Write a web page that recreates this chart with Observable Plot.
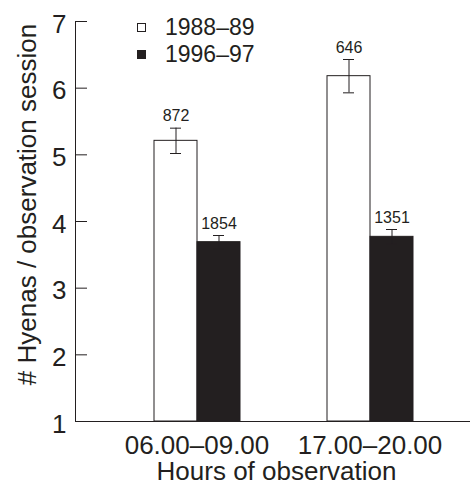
<!DOCTYPE html>
<html>
<head>
<meta charset="utf-8">
<script src="https://cdn.jsdelivr.net/npm/d3@7"></script>
<script src="https://cdn.jsdelivr.net/npm/@observablehq/plot@0.6"></script>
<style>
  html, body { margin: 0; padding: 0; background: #fff; }
  #wrap { position: relative; width: 470px; height: 490px; font-family: "Liberation Sans", Arial, Helvetica, sans-serif; color: #231f20; }
  #legend { position: absolute; left: 137px; top: 14px; font-size: 23px; line-height: 27px; }
  #legend .row { display: flex; align-items: center; }
  #legend .sw { width: 7px; height: 7px; border: 1px solid #231f20; margin-right: 19px; }
</style>
</head>
<body>
<div id="wrap"><div id="legend"></div></div>
<script>
// ---- data ----
const groups = ["06.00–09.00", "17.00–20.00"];
const series = ["1988–89", "1996–97"];
const seriesFill = ["#ffffff", "#231f20"];
// mean hyenas per session, by group, for each series
const means1988 = [5.21, 6.18];
const means1996 = [3.69, 3.77];
// error bar half-widths
const err1988 = [0.19, 0.25];
const err1996 = [0.10, 0.11];
// sample sizes shown above bars
const n1988 = [872, 646];
const n1996 = [1854, 1351];
const yDomain = [1, 7];
const yTicks = [1, 2, 3, 4, 5, 6, 7];
const yLabel = "# Hyenas / observation session";
const xLabel = "Hours of observation";

const rows = [];
groups.forEach((g, i) => {
  rows.push({group: g, series: series[0], value: means1988[i], err: err1988[i], n: n1988[i]});
  rows.push({group: g, series: series[1], value: means1996[i], err: err1996[i], n: n1996[i]});
});

const ink = "#231f20";
const font = "'Liberation Sans', Arial, Helvetica, sans-serif";
const firstGroup = () => groups[0];

const chart = Plot.plot({
  width: 470,
  height: 490,
  marginLeft: 75,
  marginRight: 0,
  marginTop: 21,
  marginBottom: 69,
  style: {fontFamily: font, color: ink, background: "#fff", overflow: "visible"},
  fx: {domain: groups, padding: 0, paddingOuter: 0.1416, align: 0},
  x: {domain: series, padding: 0, paddingOuter: 0.989, align: 0.913, axis: null},
  y: {domain: yDomain},
  color: {domain: series, range: seriesFill},
  marks: [
    Plot.barY(rows, {fx: "group", x: "series", y1: yDomain[0], y2: "value", fill: "series", stroke: ink, strokeWidth: 1}),
    Plot.ruleX(rows, {fx: "group", x: "series", y1: d => d.value - d.err, y2: d => d.value + d.err, stroke: ink, strokeWidth: 1}),
    Plot.tickY(rows, {fx: "group", x: "series", y: d => d.value + d.err, stroke: ink, strokeWidth: 1, insetLeft: 16, insetRight: 16}),
    Plot.tickY(rows, {fx: "group", x: "series", y: d => d.value - d.err, stroke: ink, strokeWidth: 1, insetLeft: 16, insetRight: 16}),
    Plot.text(rows, {fx: "group", x: "series", y: d => d.value + d.err, text: d => String(d.n), dy: -7, lineAnchor: "bottom", fontSize: 16, fill: ink}),
    // x baseline: one segment per facet, the last one running to the right edge
    Plot.ruleY([groups[0]], {fx: d => d, y: () => yDomain[0], stroke: ink, strokeWidth: 1}),
    Plot.ruleY([groups[1]], {fx: d => d, y: () => yDomain[0], stroke: ink, strokeWidth: 1, insetRight: -49}),
    // y axis line in the first facet (thin filled rect at its left edge)
    Plot.rect([yDomain], {fx: firstGroup, y1: d => d[0], y2: d => d[1], fill: ink, insetRight: 172}),
    // inward tick marks on the y axis
    Plot.ruleY(yTicks.slice(1), {fx: firstGroup, y: d => d, stroke: ink, strokeWidth: 1, insetRight: 161}),
    // tick labels
    Plot.axisY({ticks: yTicks, tickSize: 0, tickPadding: 9, dy: 3, fontSize: 26, tickFormat: d => d, label: null}),
    Plot.text([yLabel], {fx: firstGroup, frameAnchor: "left", rotate: -90, dx: -48, dy: -17,
      fontSize: 26, fill: ink, textAnchor: "middle", lineAnchor: "middle"}),
    Plot.axisFx({anchor: "bottom", tickSize: 0, tickPadding: 14, dx: 35, fontSize: 26, label: null}),
    Plot.text([xLabel], {fx: firstGroup, frameAnchor: "bottom-left", dx: 201, dy: 58,
      fontSize: 26, fill: ink, textAnchor: "middle", lineAnchor: "bottom"})
  ]
});
document.getElementById("wrap").prepend(chart);

const legend = document.getElementById("legend");
series.forEach((s, i) => {
  const row = document.createElement("div");
  row.className = "row";
  const sw = document.createElement("span");
  sw.className = "sw";
  sw.style.background = seriesFill[i];
  const t = document.createElement("span");
  t.textContent = s;
  row.append(sw, t);
  legend.append(row);
});
</script>
</body>
</html>
